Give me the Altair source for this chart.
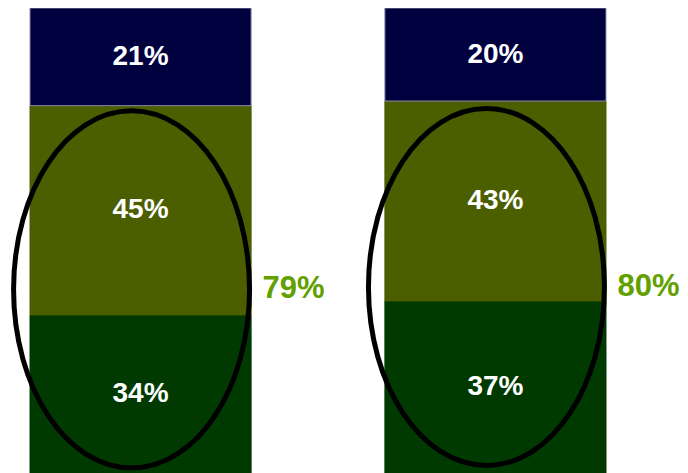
import altair as alt
import pandas as pd

categories = ["A", "B"]
segments = ["bottom", "middle", "top"]
bottom_vals = [34, 37]
middle_vals = [45, 43]
top_vals = [21, 20]
totals = [79, 80]
seg_colors = ["#003A00", "#4B5E00", "#00003F"]
seg_strokes = ["#003A00", "#4B5E00", "#8A8AA8"]

rows = []
for i, c in enumerate(categories):
    for j, (s, v) in enumerate(zip(segments, [bottom_vals[i], middle_vals[i], top_vals[i]])):
        rows.append({"cat": c, "seg": s, "order": j, "value": v, "label": f"{v}%"})
df = pd.DataFrame(rows)

tot_df = pd.DataFrame({
    "cat": categories,
    "total": totals,
    "center": [t / 2 for t in totals],
    "label": [f"{t}%" for t in totals],
})

xscale = alt.Scale(domain=categories, paddingInner=0.377, paddingOuter=0.062)
yscale = alt.Scale(domain=[0, 100], nice=False, zero=True)

base = alt.Chart(df).transform_stack(
    stack="value", groupby=["cat"], sort=[alt.SortField("order")], as_=["y0", "y1"]
).transform_calculate(mid="(datum.y0 + datum.y1) / 2")

bars = base.mark_bar(strokeWidth=1).encode(
    x=alt.X("cat:N", scale=xscale, axis=None),
    y=alt.Y("y0:Q", scale=yscale, axis=None),
    y2="y1:Q",
    color=alt.Color("seg:N", scale=alt.Scale(domain=segments, range=seg_colors), legend=None),
    stroke=alt.Stroke("seg:N", scale=alt.Scale(domain=segments, range=seg_strokes), legend=None),
)

seg_text = base.mark_text(
    font="Liberation Sans", fontWeight="bold", fontSize=28, color="white", baseline="middle"
).encode(
    x=alt.X("cat:N", scale=xscale, axis=None),
    y=alt.Y("mid:Q", scale=yscale, axis=None),
    text="label:N",
)

ellipse_path = "M -0.661,0 A 0.661,1 0 1,1 0.661,0 A 0.661,1 0 1,1 -0.661,0 Z"
ellipses = alt.Chart(tot_df).mark_point(
    shape=ellipse_path, size=127449, filled=False, stroke="black",
    strokeWidth=5, opacity=1, xOffset=-9
).encode(
    x=alt.X("cat:N", scale=xscale, axis=None),
    y=alt.Y("center:Q", scale=yscale, axis=None),
)

tot_text = alt.Chart(tot_df).mark_text(
    font="Liberation Sans", fontWeight="bold", fontSize=31, color="#62A000",
    baseline="middle", align="center", dx=153
).encode(
    x=alt.X("cat:N", scale=xscale, axis=None),
    y=alt.Y("center:Q", scale=yscale, axis=None),
    text="label:N",
)

chart = alt.layer(bars, seg_text, ellipses, tot_text).properties(
    width=620, height=465,
    padding={"left": 0, "top": 0, "right": 52, "bottom": 0},
    autosize=alt.AutoSizeParams(type="none"),
).configure_view(stroke=None)

chart.save("out.html", embed_options={"renderer": "svg", "actions": False})
